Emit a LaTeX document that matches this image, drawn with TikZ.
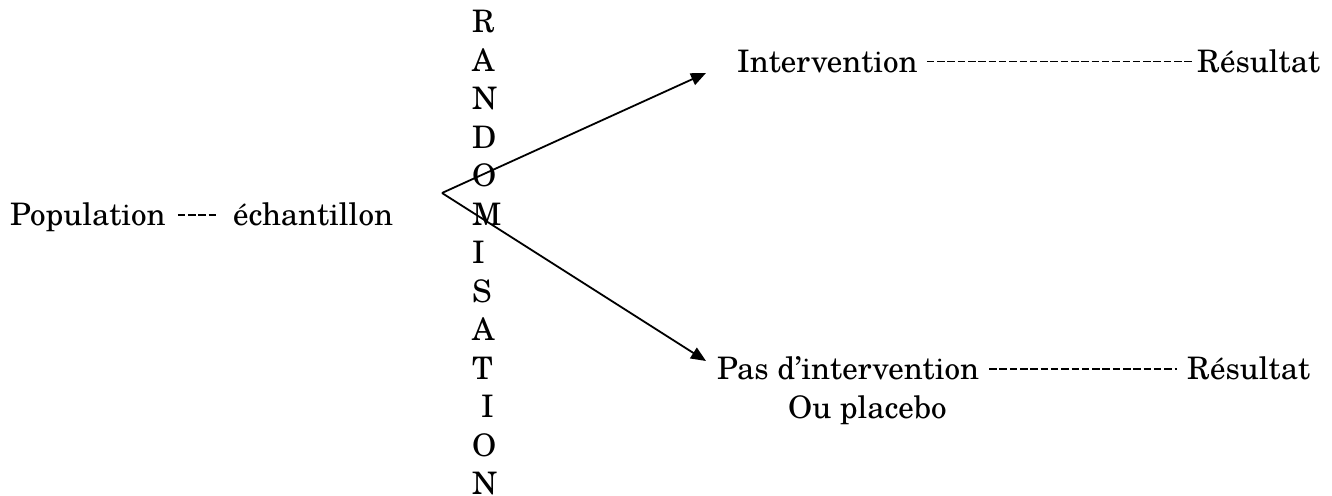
\documentclass[tikz,border=0pt]{standalone}
\usepackage{fontspec}
\setmainfont{TeX Gyre Schola}
\usetikzlibrary{arrows.meta,calc}
\begin{document}
\begin{tikzpicture}[x=1pt,y=1pt,
  txt/.style={inner sep=0pt,anchor=base west,font=\fontsize{31}{38}\selectfont},
  letter/.style={txt},
  arr/.style={line width=1.8pt,-{Triangle[length=15pt,width=12.5pt]}},
  dashline/.style={line width=1.2pt,dash pattern=on 7.5pt off 2.8pt}]
\useasboundingbox (0,0) rectangle (1332,495);
% left text
\node[txt] (pop) at (10,269) {Population};
\node[txt] (ech) at (233,269) {échantillon};
\draw[dashline] ($(pop.base east)+(12,11)$) -- ($(ech.base west)+(-14,11)$);
% vertical word
\node[letter] (l0)  at (472,462) {R};
\node[letter] (l1)  at (472,423.5) {A};
\node[letter] (l2)  at (472,385) {N};
\node[letter] (l3)  at (472,346.5) {D};
\node[letter] (l4)  at (472,308) {O};
\node[letter] (l5)  at (472,269.5) {M};
\node[letter] (l6)  at (472,231) {I};
\node[letter] (l7)  at (472,192.5) {S};
\node[letter] (l8)  at (472,154) {A};
\node[letter] (l9)  at (472,115.5) {T};
\node[letter] (l10) at (481,77) {I};
\node[letter] (l11) at (472,38.5) {O};
\node[letter] (l12) at (472,1) {N};
% arrows
\coordinate (split) at (442,302);
\coordinate (tipA) at (706,422);
\coordinate (tipB) at (706,134);
\draw[arr] (split) -- (tipA);
\draw[arr] (split) -- (tipB);
% upper branch
\node[txt] (int) at (737,422.5) {Intervention};
\node[txt] (resA) at (1197,422.5) {Résultat};
\draw[dashline] ($(int.base east)+(9,11)$) -- ($(resA.base west)+(-3,11)$);
% lower branch
\node[txt] (pas) at (717,115) {Pas d’intervention};
\node[txt] (resB) at (1187,115) {Résultat};
\node[txt] (ou) at (788,76) {Ou placebo};
\draw[dashline] ($(pas.base east)+(10,11)$) -- ($(resB.base west)+(-10,11)$);
\end{tikzpicture}
\end{document}
